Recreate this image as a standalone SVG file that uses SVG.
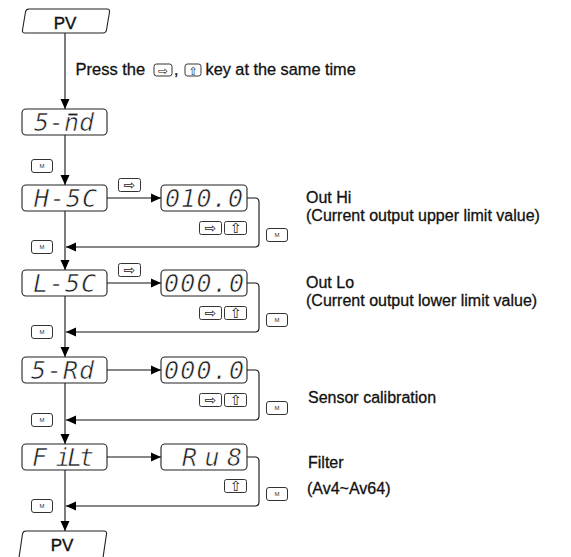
<svg xmlns="http://www.w3.org/2000/svg" width="571" height="557" viewBox="0 0 571 557">
<style>
.box{fill:#fff;stroke:#222;stroke-width:1.1}
.key{fill:#fff;stroke:#333;stroke-width:1}
.ln{fill:none;stroke:#111;stroke-width:1.1}
.seg{font-family:"DejaVu Sans Mono",monospace;font-style:oblique;font-size:25px;fill:#1c1c1c;stroke:#fff;stroke-width:0.6}
.lbl{font-family:"Liberation Sans",Arial,sans-serif;font-size:16px;fill:#111;stroke:#111;stroke-width:0.3}
.pv{font-family:"Liberation Sans",Arial,sans-serif;font-size:17px;fill:#111;stroke:#111;stroke-width:0.4;text-anchor:middle}
.kt{font-family:"DejaVu Sans",sans-serif;font-size:14px;text-anchor:middle;fill:#222}
.mt{font-family:"Liberation Sans",Arial,sans-serif;font-size:6px;text-anchor:middle;fill:#333}
</style>
<defs>
<marker id="ah" markerUnits="userSpaceOnUse" markerWidth="10" markerHeight="10" viewBox="0 0 10 10" refX="10" refY="5" orient="auto"><path d="M0,0.5 L10,5 L0,9.5 z" fill="#000"/></marker>
<g id="kR"><rect class="key" x="0.5" y="0.5" width="22" height="13" rx="2"/><text class="kt" x="11.5" y="12">⇨</text></g>
<g id="kU"><rect class="key" x="0.5" y="0.5" width="22" height="13" rx="2"/><text class="kt" x="11.5" y="12">⇧</text></g>
<g id="kM"><rect class="key" x="0.5" y="0.5" width="21" height="13" rx="2.5"/><text class="mt" x="11" y="9">M</text></g>
</defs>

<g id="connectors">
<line class="ln" x1="65" y1="33" x2="65" y2="109" marker-end="url(#ah)"/>
<line class="ln" x1="65" y1="135" x2="65" y2="185" marker-end="url(#ah)"/>
<line class="ln" x1="65" y1="211" x2="65" y2="270" marker-end="url(#ah)"/>
<line class="ln" x1="65" y1="296" x2="65" y2="357" marker-end="url(#ah)"/>
<line class="ln" x1="65" y1="383" x2="65" y2="444" marker-end="url(#ah)"/>
<line class="ln" x1="65" y1="470" x2="65" y2="531" marker-end="url(#ah)"/>
<line class="ln" x1="107" y1="198" x2="161" y2="198" marker-end="url(#ah)"/>
<line class="ln" x1="107" y1="283" x2="161" y2="283" marker-end="url(#ah)"/>
<line class="ln" x1="107" y1="370" x2="161" y2="370" marker-end="url(#ah)"/>
<line class="ln" x1="107" y1="457" x2="161" y2="457" marker-end="url(#ah)"/>
<path class="ln" d="M247,198 H255 Q259,198 259,202 V243 Q259,247 255,247 H66" marker-end="url(#ah)"/>
<path class="ln" d="M247,283 H255 Q259,283 259,287 V328 Q259,332 255,332 H66" marker-end="url(#ah)"/>
<path class="ln" d="M247,370 H255 Q259,370 259,374 V416 Q259,420 255,420 H66" marker-end="url(#ah)"/>
<path class="ln" d="M247,457 H255 Q259,457 259,461 V502 Q259,506 255,506 H66" marker-end="url(#ah)"/>
</g>

<g id="pv-top">
<path class="box" d="M29,9 H107 Q110,9 109.5,12 L106.5,30 Q106,33 103,33 H25 Q22,33 22.5,30 L25.5,12 Q26,9 29,9 Z"/>
<text class="pv" x="65" y="28.5">PV</text>
</g>

<g id="press-text">
<text class="lbl" x="75.5" y="75" style="font-size:16.5px">Press the</text>
<rect class="key" x="154" y="64" width="18" height="12" rx="2.5"/>
<text class="kt" x="163" y="74.5" style="font-size:12px">⇨</text>
<text class="lbl" x="174" y="75">,</text>
<rect class="key" x="185" y="64" width="16" height="12" rx="2.5"/>
<text class="kt" x="193" y="74.5" style="font-size:11px">⇧</text>
<text class="lbl" x="205.5" y="75" style="font-size:16.3px">key at the same time</text>
</g>

<g id="s-md">
<rect class="box" x="22" y="109" width="85" height="26" rx="4"/>
<text class="seg" x="34" y="131" textLength="60" lengthAdjust="spacing">5-nd</text>
<line x1="68.5" y1="114.5" x2="77.5" y2="114.5" stroke="#1c1c1c" stroke-width="1.8"/>
</g>
<use id="m0" href="#kM" x="31" y="159"/>

<g id="h-sc">
<rect class="box" x="22" y="185" width="85" height="26" rx="4"/>
<text class="seg" x="34" y="207" textLength="63" lengthAdjust="spacing">H-5C</text>
</g>
<use href="#kR" x="118" y="178"/>
<g id="h-val">
<rect class="box" x="161" y="185" width="86" height="26" rx="4"/>
<text class="seg" x="165" y="207" textLength="78" lengthAdjust="spacing">010.0</text>
</g>
<use href="#kR" x="199" y="221"/>
<use href="#kU" x="224" y="221"/>
<use href="#kM" x="266" y="228"/>
<use href="#kM" x="31" y="240"/>
<g id="h-label">
<text class="lbl" x="306" y="203">Out Hi</text>
<text class="lbl" x="306" y="221">(Current output upper limit value)</text>
</g>

<g id="l-sc">
<rect class="box" x="22" y="270" width="85" height="26" rx="4"/>
<text class="seg" x="33" y="292" textLength="63" lengthAdjust="spacing">L-5C</text>
</g>
<use href="#kR" x="118" y="263"/>
<g id="l-val">
<rect class="box" x="161" y="270" width="86" height="26" rx="4"/>
<text class="seg" x="164" y="292" textLength="80" lengthAdjust="spacing">000.0</text>
</g>
<use href="#kR" x="199" y="306"/>
<use href="#kU" x="224" y="306"/>
<use href="#kM" x="266" y="313"/>
<use href="#kM" x="31" y="325"/>
<g id="l-label">
<text class="lbl" x="306" y="288">Out Lo</text>
<text class="lbl" x="306" y="306">(Current output lower limit value)</text>
</g>

<g id="s-ad">
<rect class="box" x="22" y="357" width="85" height="26" rx="4"/>
<text class="seg" x="31" y="379" textLength="63" lengthAdjust="spacing">5-Rd</text>
</g>
<g id="s-val">
<rect class="box" x="161" y="357" width="86" height="26" rx="4"/>
<text class="seg" x="164" y="379" textLength="80" lengthAdjust="spacing">000.0</text>
</g>
<use href="#kR" x="199" y="393"/>
<use href="#kU" x="224" y="393"/>
<use href="#kM" x="266" y="401"/>
<use href="#kM" x="31" y="413"/>
<g id="s-label">
<text class="lbl" x="308" y="403">Sensor calibration</text>
</g>

<g id="filt">
<rect class="box" x="22" y="444" width="85" height="26" rx="4"/>
<text class="seg" x="32" y="466" textLength="62" lengthAdjust="spacing">F iLt</text>
</g>
<g id="f-val">
<rect class="box" x="161" y="444" width="86" height="26" rx="4"/>
<text class="seg" x="182" y="466" textLength="60" lengthAdjust="spacing">R u 8</text>
</g>
<use href="#kU" x="224" y="479"/>
<use href="#kM" x="266" y="487"/>
<use href="#kM" x="31" y="499"/>
<g id="f-label">
<text class="lbl" x="308" y="468">Filter</text>
<text class="lbl" x="307" y="494">(Av4~Av64)</text>
</g>

<g id="pv-bottom">
<path class="box" d="M26,531 H104 Q107,531 106.5,534 L102.5,561 H18.5 L22.5,534 Q23,531 26,531 Z"/>
<text class="pv" x="62" y="551">PV</text>
</g>
</svg>
